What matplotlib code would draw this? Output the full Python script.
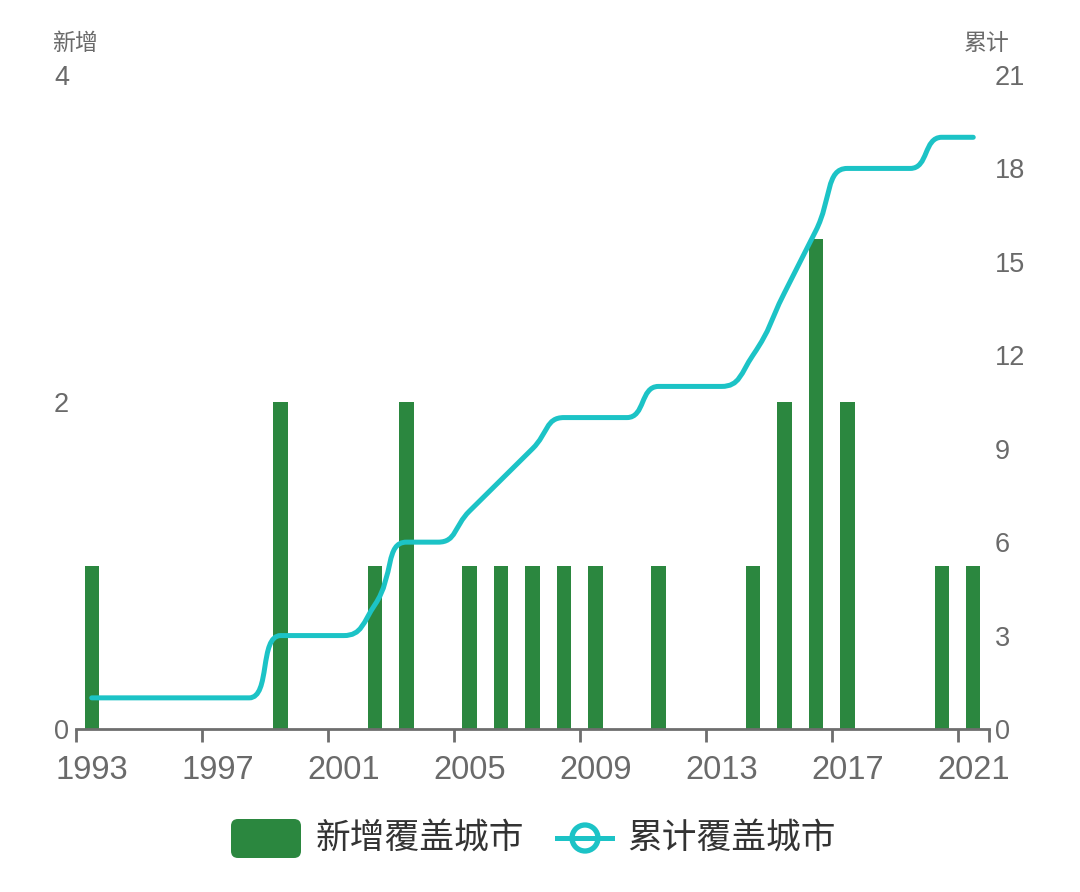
import numpy as np
import matplotlib
matplotlib.use("Agg")
import matplotlib.pyplot as plt
from matplotlib.path import Path
from matplotlib.patches import PathPatch, FancyBboxPatch, Circle
from matplotlib.lines import Line2D
from matplotlib.transforms import Affine2D

plt.rcParams['font.family'] = ['Liberation Sans', 'Noto Sans CJK SC', 'DejaVu Sans']

# ---------------- data ----------------
years = list(range(1993, 2022))
new_cities = [1, 0, 0, 0, 0, 0, 2, 0, 0, 1, 2, 0, 1, 1, 1, 1, 1, 0, 1, 0, 0, 1, 2, 3, 2, 0, 0, 1, 1]
cumulative = [1, 1, 1, 1, 1, 1, 3, 3, 3, 4, 6, 6, 7, 8, 9, 10, 10, 10, 11, 11, 11, 12, 14, 16, 18, 18, 18, 19, 19]
left_ticks = [0, 2, 4]
right_ticks = [0, 3, 6, 9, 12, 15, 18, 21]
bar_label = "新增覆盖城市"
line_label = "累计覆盖城市"
left_title = "新增"
right_title = "累计"

BAR_C = "#2b873f"
LINE_C = "#1cc3c6"
AX_C = "#6e6e6e"
TXT_C = "#6a6a6a"

W, H = 1080, 892
fig = plt.figure(figsize=(W / 100, H / 100), dpi=100)
ax = fig.add_axes([76 / W, 1 - 729 / H, (989 - 76) / W, (729 - 75) / H])
ax2 = ax.twinx()

idx = np.arange(len(years))
ax.bar(idx, new_cities, width=0.46, color=BAR_C, zorder=2)
ax.set_xlim(-0.5, len(years) - 0.5)
ax.set_ylim(0, 4)
ax2.set_ylim(0, 21)

# x axis: category style, labels at band centres, ticks at band boundaries
lab_idx = idx[::4]
ax.set_xticks(lab_idx)
ax.set_xticklabels([str(years[i]) for i in lab_idx], fontsize=23.5, color=TXT_C)
ax.tick_params(axis='x', which='major', length=0, pad=19)
ax.set_xticks(list(lab_idx - 0.5) + [len(years) - 0.5], minor=True)
ax.tick_params(axis='x', which='minor', length=9, width=2, color=AX_C, direction='out')

ax.set_yticks(left_ticks)
ax.set_yticklabels([str(v) for v in left_ticks], fontsize=19.5, color=TXT_C)
ax.tick_params(axis='y', length=0, pad=5)
ax2.set_yticks(right_ticks)
ax2.set_yticklabels([str(v) for v in right_ticks], fontsize=19.5, color=TXT_C)
ax2.tick_params(axis='y', length=0, pad=4)

for a in (ax, ax2):
    for s in ('top', 'left', 'right'):
        a.spines[s].set_visible(False)
ax.spines['bottom'].set_color(AX_C)
ax.spines['bottom'].set_linewidth(2)
ax2.spines['bottom'].set_visible(False)

# smooth line (echarts-like bezier smoothing) computed in display space
fig.canvas.draw()
pts = ax2.transData.transform(np.column_stack([idx, cumulative]).astype(float))
px, py = pts[:, 0], pts[:, 1]

def clamp(v, a, b):
    lo, hi = min(a, b), max(a, b)
    return max(lo, min(hi, v))

smooth = 0.5
verts = [(px[0], py[0])]
codes = [Path.MOVETO]
cp0 = (px[0], py[0])
n = len(px)
for i in range(1, n):
    x, y = px[i], py[i]
    if i < n - 1:
        pxv, pyv = px[i - 1], py[i - 1]
        nx, ny = px[i + 1], py[i + 1]
        vx, vy = nx - pxv, ny - pyv
        lp = np.hypot(x - pxv, y - pyv)
        ln = np.hypot(nx - x, ny - y)
        r = ln / (ln + lp)
        ncx = clamp(x + vx * smooth * r, x, nx)
        ncy = clamp(y + vy * smooth * r, y, ny)
        vx, vy = ncx - x, ncy - y
        c1x = clamp(x - vx * lp / ln, pxv, x)
        c1y = clamp(y - vy * lp / ln, pyv, y)
        vx, vy = x - c1x, y - c1y
        ncx, ncy = x + vx * ln / lp, y + vy * ln / lp
    else:
        c1x, c1y = x, y
        ncx, ncy = x, y
    verts += [cp0, (c1x, c1y), (x, y)]
    codes += [Path.CURVE4] * 3
    cp0 = (ncx, ncy)

verts_data = ax2.transData.inverted().transform(np.array(verts))
ax2.add_patch(PathPatch(Path(verts_data, codes), facecolor='none', edgecolor=LINE_C,
                        linewidth=3.6, capstyle='round', joinstyle='round', zorder=3))

# axis titles
pix = Affine2D().scale(1 / W, -1 / H).translate(0, 1) + fig.transFigure
fig.text(52, 43, left_title, transform=pix, fontsize=16.5, color=TXT_C, va='center', ha='left')
fig.text(1010, 43, right_title, transform=pix, fontsize=16.5, color=TXT_C, va='center', ha='right')

# legend
cy = 838
fig.add_artist(FancyBboxPatch((231, cy - 19), 70, 39, boxstyle="round,pad=0,rounding_size=7",
                              transform=pix, facecolor=BAR_C, edgecolor='none'))
fig.text(316, cy + 1, bar_label, transform=pix, fontsize=25, color="#333333", va='center', ha='left')
fig.add_artist(Line2D([557, 612], [cy, cy], transform=pix, color=LINE_C, linewidth=3.6))
fig.add_artist(Circle((585, cy), 13, transform=pix, facecolor='white', edgecolor=LINE_C, linewidth=3.8))
fig.text(627, cy + 1, line_label, transform=pix, fontsize=25, color="#333333", va='center', ha='left')

fig.savefig("out.png", dpi=100)
